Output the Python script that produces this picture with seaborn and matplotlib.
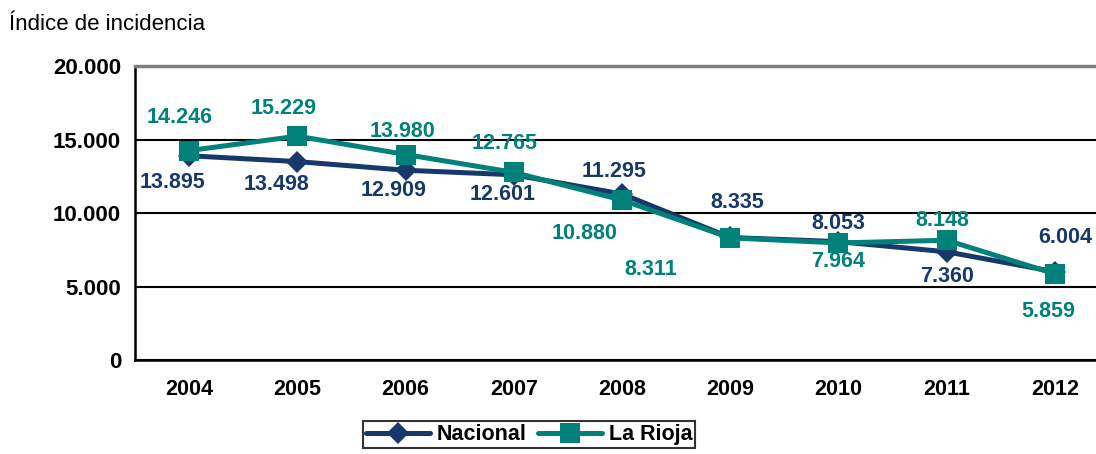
import numpy as np
import pandas as pd
import matplotlib.pyplot as plt
import seaborn as sns

sns.set_style("white")
plt.rcParams['font.family'] = ['Liberation Sans', 'DejaVu Sans']
plt.rcParams['text.color'] = 'black'
plt.rcParams['xtick.color'] = 'black'
plt.rcParams['ytick.color'] = 'black'

# Datos
years = ['2004', '2005', '2006', '2007', '2008', '2009', '2010', '2011', '2012']
nacional = [13895, 13498, 12909, 12601, 11295, 8335, 8053, 7360, 6004]
la_rioja = [14246, 15229, 13980, 12765, 10880, 8311, 7964, 8148, 5859]

# Desplazamientos de las etiquetas (pixeles, y hacia arriba)
off_nac = [(-17, -27), (-21, -23), (-12, -20), (-11, -20), (-8, 22), (7, 35), (0, 18), (0, -25), (10, 34)]
off_rio = [(-10, 33), (-14, 28), (-3, 23), (-9, 29), (-37, -33), (-80, -32), (0, -19), (-4, 20), (-7, -38)]

c_nac = '#17386B'
c_rio = '#00827A'

df = pd.DataFrame({'x': np.arange(len(years)), 'Nacional': nacional, 'La Rioja': la_rioja})

fig = plt.figure(figsize=(10.96, 4.54), dpi=100)
ax = fig.add_axes([0.1232, 0.207, 1.0119 - 0.1232, 0.8546 - 0.207])

sns.lineplot(data=df, x='x', y='Nacional', ax=ax, color=c_nac, lw=3.6, marker='D',
             markersize=11, markeredgewidth=0, label='Nacional', zorder=3)
sns.lineplot(data=df, x='x', y='La Rioja', ax=ax, color=c_rio, lw=3.6, marker='s',
             markersize=14, markeredgewidth=0, label='La Rioja', zorder=4)

for i in range(len(years)):
    ax.annotate(f"{nacional[i]:,}".replace(',', '.'), (i, nacional[i]), xytext=off_nac[i],
                textcoords='offset pixels', ha='center', va='center', color=c_nac,
                fontsize=15.5, fontweight='bold', zorder=5)
    ax.annotate(f"{la_rioja[i]:,}".replace(',', '.'), (i, la_rioja[i]), xytext=off_rio[i],
                textcoords='offset pixels', ha='center', va='center', color=c_rio,
                fontsize=15.5, fontweight='bold', zorder=5)

ax.set_xlim(-0.5, len(years) - 0.5)
ax.set_ylim(0, 20000)
ax.set_yticks([0, 5000, 10000, 15000, 20000])
ax.set_yticklabels(['0', '5.000', '10.000', '15.000', '20.000'], fontsize=16, fontweight='bold')
ax.set_xticks(np.arange(len(years)))
ax.set_xticklabels(years, fontsize=15.5, fontweight='bold')
ax.set_xticks(np.arange(len(years) + 1) - 0.5, minor=True)
ax.tick_params(axis='x', which='major', length=0, pad=14)
ax.tick_params(axis='x', which='minor', length=6, width=1.5, direction='out', color='black')
ax.tick_params(axis='y', length=6, width=1.5, direction='out', color='black', pad=4)
ax.set_xlabel('')
ax.set_ylabel('')

ax.yaxis.grid(True, color='black', lw=1.5)
ax.set_axisbelow(True)
ax.spines['right'].set_visible(False)
ax.spines['top'].set_color('#808080')
ax.spines['top'].set_linewidth(2.5)
ax.spines['left'].set_color('black')
ax.spines['left'].set_linewidth(1.8)
ax.spines['bottom'].set_color('black')
ax.spines['bottom'].set_linewidth(1.8)

ax.get_legend().remove()
h, l = ax.get_legend_handles_labels()
leg = fig.legend(h, l, loc='upper center', bbox_to_anchor=(529 / 1096, 1 - 421 / 454), ncol=2,
                 frameon=True, fancybox=False, edgecolor='black',
                 prop={'weight': 'bold', 'size': 15.5}, handlelength=3, columnspacing=0.5,
                 handletextpad=0.3, borderpad=0.15, borderaxespad=0)
leg.get_frame().set_linewidth(1.5)

fig.text(0.008, 1 - 25 / 454, 'Índice de incidencia', fontsize=16, va='center', ha='left')

fig.savefig('out.png', dpi=100)
